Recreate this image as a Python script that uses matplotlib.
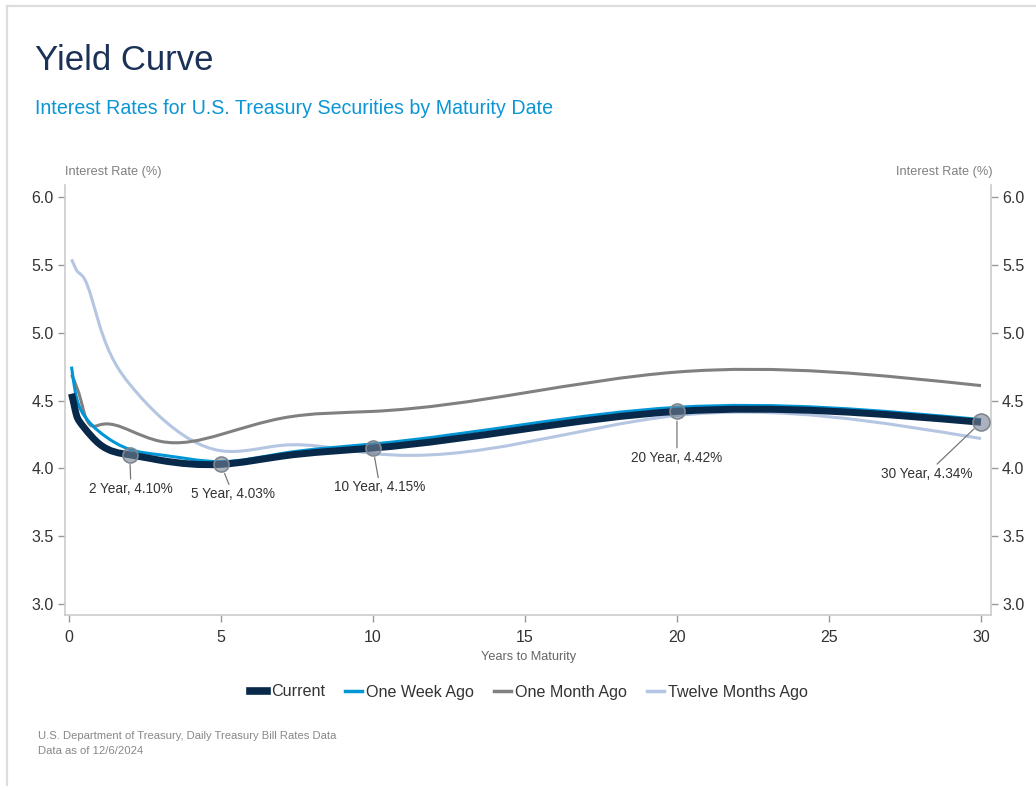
import numpy as np
import matplotlib.pyplot as plt
from matplotlib.path import Path
from matplotlib.patches import PathPatch
from matplotlib.lines import Line2D

plt.rcParams['font.family'] = ['Liberation Sans', 'DejaVu Sans']

# Treasury par yields (%) by years to maturity
maturities = [1/12, 2/12, 3/12, 4/12, 6/12, 1, 2, 3, 5, 7, 10, 20, 30]
current = [4.55, 4.47, 4.39, 4.35, 4.30, 4.18, 4.10, 4.06, 4.03, 4.09, 4.15, 4.42, 4.34]
one_week_ago = [4.75, 4.62, 4.52, 4.46, 4.39, 4.27, 4.14, 4.10, 4.05, 4.11, 4.18, 4.45, 4.36]
one_month_ago = [4.69, 4.65, 4.60, 4.55, 4.41, 4.32, 4.28, 4.20, 4.25, 4.37, 4.42, 4.71, 4.61]
twelve_months_ago = [5.54, 5.50, 5.46, 5.44, 5.40, 5.06, 4.62, 4.38, 4.13, 4.17, 4.11, 4.39, 4.22]

callout_years = [2, 5, 10, 20, 30]
callout_names = ['2 Year', '5 Year', '10 Year', '20 Year', '30 Year']

series_names = ['Current', 'One Week Ago', 'One Month Ago', 'Twelve Months Ago']
series_colors = ['#08294a', '#0096d6', '#808080', '#b4c6e2']
series_widths = [5.0, 2.2, 2.2, 2.2]


def spline_path(x, y):
    """Natural cubic spline through the points, as a chain of Bezier segments."""
    x = np.asarray(x, float)
    y = np.asarray(y, float)
    n = len(x)
    h = np.diff(x)
    A = np.zeros((n, n))
    b = np.zeros(n)
    A[0, 0] = A[-1, -1] = 1
    for i in range(1, n - 1):
        A[i, i - 1] = h[i - 1]
        A[i, i] = 2 * (h[i - 1] + h[i])
        A[i, i + 1] = h[i]
        b[i] = 6 * ((y[i + 1] - y[i]) / h[i] - (y[i] - y[i - 1]) / h[i - 1])
    M = np.linalg.solve(A, b)
    verts = [(x[0], y[0])]
    codes = [Path.MOVETO]
    for i in range(n - 1):
        s = (y[i + 1] - y[i]) / h[i]
        d0 = s - h[i] * (2 * M[i] + M[i + 1]) / 6
        d1 = s + h[i] * (M[i] + 2 * M[i + 1]) / 6
        verts += [(x[i] + h[i] / 3, y[i] + d0 * h[i] / 3),
                  (x[i + 1] - h[i] / 3, y[i + 1] - d1 * h[i] / 3),
                  (x[i + 1], y[i + 1])]
        codes += [Path.CURVE4] * 3
    return Path(verts, codes)


fig = plt.figure(figsize=(10.36, 7.86), dpi=100)
ax = fig.add_axes([65 / 1036, 1 - 615 / 786, 926 / 1036, 430 / 786])

all_series = [current, one_week_ago, one_month_ago, twelve_months_ago]
zorders = [5, 4, 3, 2]
for vals, color, lw, z in zip(all_series, series_colors, series_widths, zorders):
    ax.add_patch(PathPatch(spline_path(maturities, vals), fill=False, edgecolor=color,
                           lw=lw, capstyle='butt', joinstyle='round', zorder=z))

# callouts on the current curve
text_offsets = {2: (0.04, -0.25), 5: (0.39, -0.22), 10: (0.23, -0.29),
                20: (0.0, -0.34), 30: (-1.78, -0.38)}
for yr, name in zip(callout_years, callout_names):
    val = current[maturities.index(yr)]
    size = 12.2 if yr == 30 else 10.8
    ax.plot([yr], [val], 'o', ms=size, mfc=(0.45, 0.50, 0.58, 0.6), mec='#7f8790',
            mew=1.2, zorder=6, clip_on=False)
    dx, dy = text_offsets[yr]
    ax.annotate(f'{name}, {val:.2f}%', xy=(yr, val), xytext=(yr + dx, val + dy),
                ha='center', va='center', fontsize=9.8, color='#333333',
                arrowprops=dict(arrowstyle='-', color='#777777', lw=0.9,
                                shrinkA=0, shrinkB=7), zorder=7)

ax.set_xlim(-0.13, 30.33)
ax.set_ylim(2.92, 6.088)
ax.set_xticks(range(0, 31, 5))
ax.set_yticks(np.arange(3.0, 6.01, 0.5))
ax.yaxis.set_major_formatter(plt.FormatStrFormatter('%.1f'))
ax.yaxis.set_ticks_position('both')
ax.tick_params(axis='both', direction='out', length=5, width=1, color='#999999',
               labelsize=11.5, labelcolor='#333333', pad=3)
ax.tick_params(axis='y', labelright=True)
ax.tick_params(axis='x', pad=6)
ax.spines['top'].set_visible(False)
for side in ['left', 'right', 'bottom']:
    ax.spines[side].set_color('#cccccc')
    ax.spines[side].set_linewidth(1.2)

fig.text(65 / 1036, 1 - 172 / 786, 'Interest Rate (%)', ha='left', va='center',
         fontsize=9.2, color='#808080')
fig.text(993 / 1036, 1 - 172 / 786, 'Interest Rate (%)', ha='right', va='center',
         fontsize=9.2, color='#808080')
fig.text(529 / 1036, 1 - 657 / 786, 'Years to Maturity', ha='center', va='center',
         fontsize=9.2, color='#666666')

fig.text(35 / 1036, 1 - 70 / 786, 'Yield Curve', ha='left', va='baseline',
         fontsize=25, color='#1b3157')
fig.text(35 / 1036, 1 - 114.5 / 786,
         'Interest Rates for U.S. Treasury Securities by Maturity Date',
         ha='left', va='baseline', fontsize=14.1, color='#0a96d6')

handles = [Line2D([], [], color=c, lw=(5.5 if i == 0 else 2.5))
           for i, c in enumerate(series_colors)]
leg = fig.legend(handles, series_names, loc='center',
                 bbox_to_anchor=(529 / 1036, 1 - 692 / 786), ncol=4, frameon=False,
                 fontsize=11.6, handlelength=1.05, handletextpad=0.25,
                 columnspacing=1.25, labelcolor='#333333')

fig.text(38 / 1036, 1 - 736 / 786, 'U.S. Department of Treasury, Daily Treasury Bill Rates Data',
         ha='left', va='center', fontsize=8.1, color='#888888')
fig.text(38 / 1036, 1 - 751 / 786, 'Data as of 12/6/2024', ha='left', va='center',
         fontsize=8.1, color='#888888')

# card border along the top and left edges
fig.add_artist(Line2D([6.5 / 1036, 6.5 / 1036], [0, 1 - 5.5 / 786], color='#dddddd', lw=1.6))
fig.add_artist(Line2D([6.5 / 1036, 1], [1 - 5.5 / 786, 1 - 5.5 / 786], color='#dddddd', lw=1.6))

fig.savefig('out.png', dpi=100, facecolor='white')
